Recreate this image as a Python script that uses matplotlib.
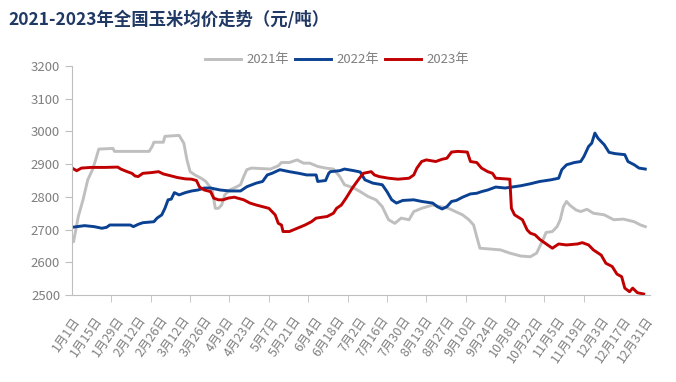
import matplotlib.pyplot as plt
from matplotlib.transforms import ScaledTranslation

plt.rcParams['font.family'] = ['Noto Sans CJK SC', 'DejaVu Sans']

# day index within the year -> price (yuan/ton)
days_2021 = [0, 1, 4, 7, 10, 13, 15, 17, 26, 27, 49, 51, 52, 58, 59, 68, 71, 73, 75, 78,
             82, 85, 89, 91, 93, 95, 97, 100, 103, 107, 109, 111, 114, 126, 131, 133, 138,
             143, 147, 151, 156, 161, 166, 170, 173, 179, 183, 188, 193, 197, 201, 205,
             209, 214, 217, 222, 229, 239, 248, 252, 255, 257, 259, 272, 278, 285, 291,
             295, 299, 301, 305, 308, 310, 312, 314, 316, 320, 323, 327, 331, 338, 344,
             350, 357, 361, 364]
price_2021 = [2665, 2663, 2740, 2791, 2852, 2883, 2913, 2946, 2948, 2939, 2939, 2955, 2967,
              2967, 2985, 2988, 2964, 2913, 2877, 2867, 2857, 2847, 2821, 2765, 2765, 2775,
              2806, 2821, 2827, 2837, 2862, 2883, 2888, 2885, 2895, 2905, 2905, 2913, 2903,
              2903, 2893, 2888, 2885, 2862, 2837, 2827, 2816, 2801, 2791, 2770, 2730, 2719,
              2735, 2730, 2755, 2765, 2775, 2765, 2745, 2730, 2714, 2678, 2643, 2638, 2628,
              2619, 2617, 2628, 2668, 2691, 2694, 2709, 2730, 2770, 2786, 2775, 2760, 2755,
              2762, 2750, 2745, 2730, 2732, 2724, 2714, 2709]

days_2022 = [0, 8, 14, 19, 22, 24, 37, 39, 42, 45, 52, 54, 57, 59, 61, 63, 65, 68, 72, 76,
             80, 84, 88, 94, 100, 107, 111, 117, 121, 124, 127, 132, 138, 144, 149, 155,
             156, 161, 163, 164, 170, 173, 179, 183, 186, 191, 197, 200, 203, 206, 210,
             217, 222, 229, 232, 235, 238, 241, 244, 248, 253, 257, 260, 264, 269, 275,
             278, 285, 291, 297, 304, 309, 311, 314, 319, 323, 325, 328, 330, 332, 334,
             338, 341, 345, 351, 353, 357, 360, 364]
price_2022 = [2707, 2712, 2709, 2704, 2707, 2714, 2714, 2709, 2716, 2721, 2724, 2735, 2745,
              2765, 2791, 2793, 2813, 2806, 2813, 2818, 2821, 2827, 2827, 2821, 2818, 2818,
              2831, 2842, 2847, 2867, 2872, 2883, 2877, 2872, 2867, 2867, 2847, 2850, 2872,
              2877, 2880, 2885, 2880, 2876, 2852, 2842, 2837, 2816, 2791, 2781, 2789, 2791,
              2786, 2781, 2770, 2763, 2770, 2786, 2789, 2799, 2809, 2811, 2816, 2821, 2830,
              2827, 2829, 2834, 2840, 2847, 2852, 2857, 2883, 2898, 2905, 2908, 2923, 2954,
              2964, 2995, 2979, 2959, 2936, 2932, 2929, 2908, 2898, 2888, 2885]

days_2023 = [0, 3, 6, 12, 21, 29, 31, 35, 38, 40, 42, 45, 50, 55, 58, 63, 67, 72, 76, 79,
             81, 84, 88, 90, 93, 96, 99, 103, 109, 113, 117, 121, 125, 127, 129, 131, 133,
             134, 138, 143, 148, 152, 155, 162, 166, 168, 171, 174, 178, 181, 183, 185,
             190, 192, 195, 201, 207, 214, 217, 219, 222, 225, 231, 235, 238, 241, 245,
             251, 253, 257, 260, 264, 267, 269, 275, 278, 279, 281, 286, 289, 291, 294,
             297, 302, 305, 309, 314, 321, 324, 328, 331, 336, 339, 343, 346, 349, 351,
             354, 356, 359, 363]
price_2023 = [2888, 2880, 2888, 2890, 2890, 2891, 2885, 2877, 2872, 2864, 2862, 2872, 2874,
              2877, 2870, 2864, 2859, 2855, 2854, 2850, 2830, 2821, 2816, 2796, 2791, 2791,
              2796, 2799, 2791, 2781, 2775, 2770, 2765, 2755, 2745, 2719, 2714, 2694, 2694,
              2704, 2714, 2724, 2735, 2740, 2750, 2765, 2775, 2796, 2827, 2847, 2860, 2872,
              2877, 2867, 2862, 2857, 2854, 2857, 2867, 2888, 2908, 2913, 2908, 2915, 2918,
              2937, 2939, 2937, 2908, 2905, 2888, 2877, 2872, 2857, 2855, 2854, 2765, 2745,
              2730, 2699, 2689, 2684, 2670, 2653, 2643, 2656, 2653, 2656, 2660, 2653, 2638,
              2622, 2597, 2587, 2564, 2556, 2521, 2510, 2521, 2507, 2503]

label_days = list(range(0, 365, 14))
date_labels = ['1月1日', '1月15日', '1月29日', '2月12日', '2月26日', '3月12日', '3月26日',
               '4月9日', '4月23日', '5月7日', '5月21日', '6月4日', '6月18日', '7月2日',
               '7月16日', '7月30日', '8月13日', '8月27日', '9月10日', '9月24日', '10月8日',
               '10月22日', '11月5日', '11月19日', '12月3日', '12月17日', '12月31日']

fig = plt.figure(figsize=(6.76, 3.82), dpi=100)
ax = fig.add_axes([72 / 676, 87 / 382, 578 / 676, 229 / 382])

ax.plot(days_2021, price_2021, color='#BFBFBF', lw=2.1, label='2021年')
ax.plot(days_2022, price_2022, color='#0A4192', lw=2.1, label='2022年')
ax.plot(days_2023, price_2023, color='#C00000', lw=2.1, label='2023年')

ax.set_xlim(0, 367)
ax.set_ylim(2500, 3200)
ax.set_yticks(range(2500, 3201, 100))

ax.set_xticks(label_days)
ax.set_xticklabels(date_labels, rotation=55, ha='right', va='top',
                   rotation_mode='anchor', color='#7F7F7F', fontsize=9)
shift = ScaledTranslation(3 / 100, 0, fig.dpi_scale_trans)
for lab in ax.get_xticklabels():
    lab.set_transform(lab.get_transform() + shift)
ax.set_xticks(range(0, 351, 25), minor=True)
ax.tick_params(axis='x', which='major', length=0, pad=14)
ax.tick_params(axis='x', which='minor', length=5, color='#BFBFBF')
ax.tick_params(axis='y', length=5, color='#BFBFBF', labelcolor='#7F7F7F', labelsize=9.5)

for s in ['top', 'right']:
    ax.spines[s].set_visible(False)
for s in ['left', 'bottom']:
    ax.spines[s].set_color('#BFBFBF')

fig.legend(loc='center', bbox_to_anchor=(337 / 676, 1 - 60 / 382), ncol=3, frameon=False,
           fontsize=9.5, handlelength=2.7, handletextpad=0.4, columnspacing=0.5,
           labelcolor='#7F7F7F')

fig.text(8 / 676, 1 - 20 / 382, '2021-2023年全国玉米均价走势（元/吨）', fontsize=12.5,
         fontweight='bold', color='#203864', va='center', ha='left')

fig.savefig('out.png', dpi=100)
